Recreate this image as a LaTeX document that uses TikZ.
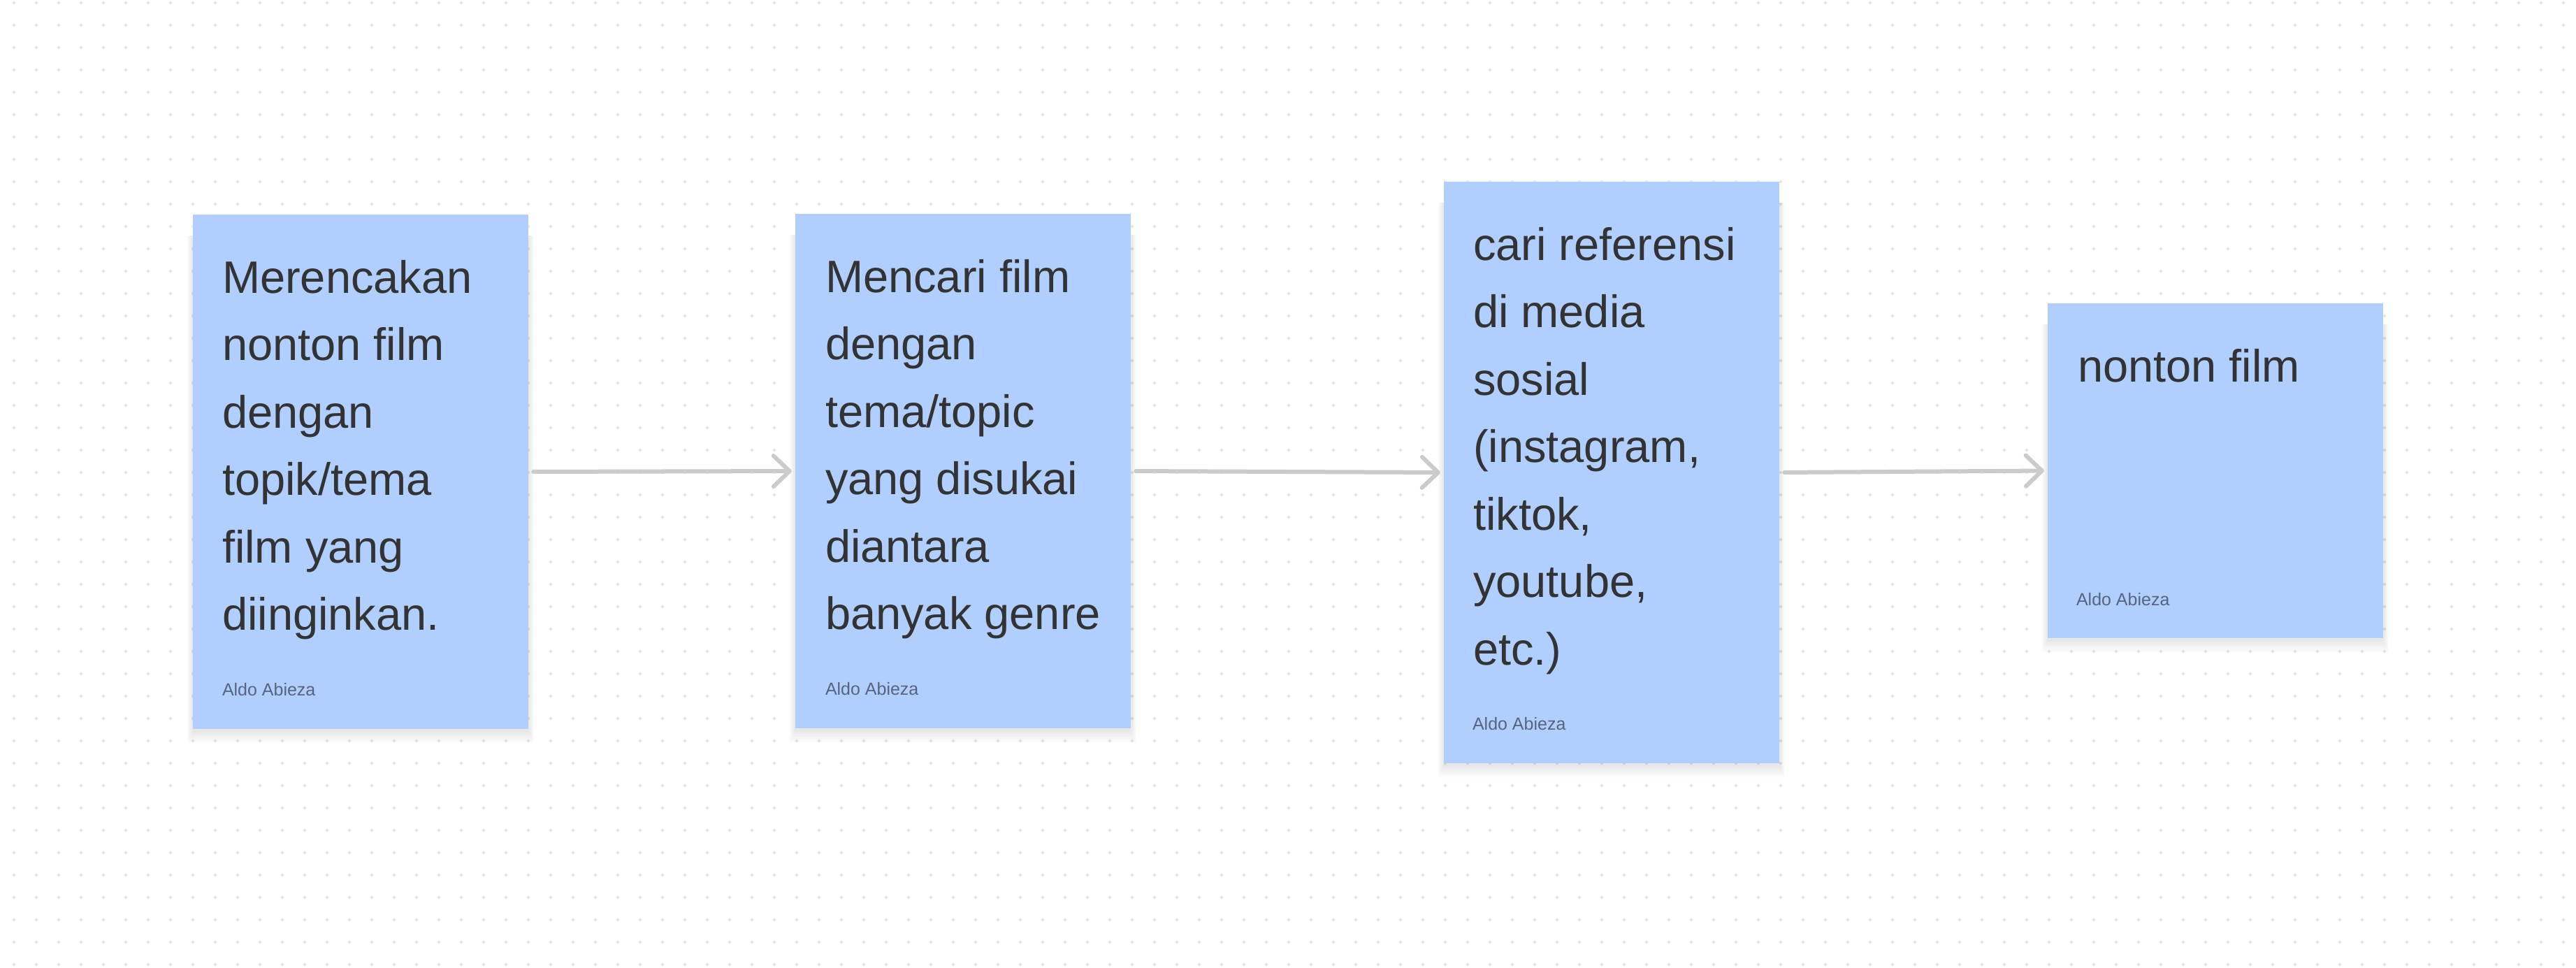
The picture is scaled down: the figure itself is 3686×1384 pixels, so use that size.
\documentclass[tikz,border=0pt]{standalone}
\usepackage{fontspec}
\setmainfont{Liberation Sans}
\usetikzlibrary{calc,arrows.meta}
\definecolor{stickyblue}{RGB}{176,206,254}
\definecolor{inkdark}{RGB}{51,51,51}
\definecolor{authorgray}{RGB}{88,100,124}
\definecolor{dotgray}{RGB}{228,228,230}
\definecolor{arrowgray}{RGB}{204,203,203}
\newcommand{\stickyshadow}[4]{%
  \foreach \k in {1,...,12}{%
    \fill[black,opacity=0.007] ($(#1,#2)+(-0.7*\k,30)$) rectangle ($(#3,#4)+(0.7*\k,2+1.6*\k)$);
  }%
}
\tikzset{
  sticky/.style={rectangle, fill=stickyblue, draw=none, inner sep=0pt, minimum width=480pt},
  bodytext/.style={anchor=north west, inner sep=0pt, align=left, text=inkdark,
    font=\fontsize{65}{96.5}\selectfont},
  author/.style={anchor=base west, inner sep=0pt, text=authorgray,
    font=\fontsize{25}{30}\selectfont},
  flow/.style={draw=arrowgray, line width=6pt, line cap=round,
    -{Straight Barb[length=23pt,width=44pt,round]}, shorten <=7pt, shorten >=5pt}
}
\begin{document}
\begin{tikzpicture}[x=1pt,y=-1pt]
\useasboundingbox (0,0) rectangle (3686,1384);
\fill[white] (0,0) rectangle (3686,1384);
% dotted canvas
\foreach \i in {0,...,114}{
  \foreach \j in {0,...,43}{
    \fill[dotgray] (20+32*\i,4+32*\j) circle (2pt);
  }
}
% shadows
\stickyshadow{276}{307}{756}{1043}
\stickyshadow{1138}{306}{1618}{1042}
\stickyshadow{2066}{260}{2546}{1092}
\stickyshadow{2930}{434}{3410}{913}
% sticky notes
\node[sticky, minimum height=736pt] (b1) at (516,675) {};
\node[sticky, minimum height=736pt] (b2) at (1378,674) {};
\node[sticky, minimum height=832pt] (b3) at (2306,676) {};
\node[sticky, minimum height=479pt] (b4) at (3170,673.5) {};
% texts
\node[bodytext] (t1) at ($(b1.north west)+(42,44.45)$) {\strut Merencakan\\nonton film\\dengan\\topik/tema\\film yang\\diinginkan.};
\node[bodytext] (t2) at ($(b2.north west)+(43,44.45)$) {\strut Mencari film\\dengan\\tema/topic\\yang disukai\\diantara\\banyak genre};
\node[bodytext] (t3) at ($(b3.north west)+(42,44.45)$) {\strut cari referensi\\di media\\sosial\\(instagram,\\tiktok,\\youtube,\\etc.)};
\node[bodytext] (t4) at ($(b4.north west)+(43,44.45)$) {\strut nonton film};
\node[author] (a1) at ($(b1.south west)+(42,-48)$) {Aldo Abieza};
\node[author] (a2) at ($(b2.south west)+(43,-48)$) {Aldo Abieza};
\node[author] (a3) at ($(b3.south west)+(41,-48)$) {Aldo Abieza};
\node[author] (a4) at ($(b4.south west)+(41,-47)$) {Aldo Abieza};
% connectors
\draw[flow] (b1.east) -- (b2.west);
\draw[flow] (b2.east) -- (b3.west);
\draw[flow] (b3.east) -- (b4.west);
\end{tikzpicture}
\end{document}
